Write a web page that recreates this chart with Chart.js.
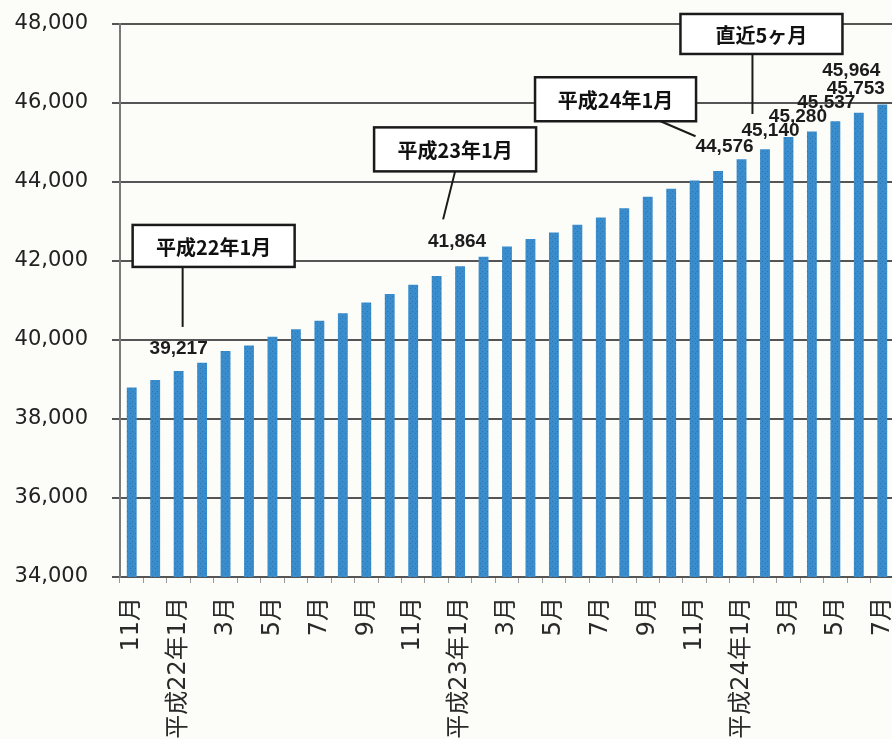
<!DOCTYPE html>
<html lang="ja">
<head>
<meta charset="utf-8">
<script src="https://cdn.jsdelivr.net/npm/chart.js@4.4.1/dist/chart.umd.min.js"></script>
<style>
  html, body { margin: 0; padding: 0; background: #fcfcf9; overflow: hidden; }
  #wrap { width: 894px; height: 739px; }
</style>
</head>
<body>
<div id="wrap"><canvas id="chart"></canvas></div>
<script>
// 月別の件数（平成21年11月〜平成24年7月）
const months = [
  '11月', '12月',
  '平成22年1月', '2月', '3月', '4月', '5月', '6月', '7月', '8月', '9月', '10月', '11月', '12月',
  '平成23年1月', '2月', '3月', '4月', '5月', '6月', '7月', '8月', '9月', '10月', '11月', '12月',
  '平成24年1月', '2月', '3月', '4月', '5月', '6月', '7月'
];
const counts = [
  38800, 38990,
  39217, 39425, 39720, 39860, 40085, 40270, 40490, 40675, 40950, 41165, 41400, 41620,
  41864, 42105, 42370, 42555, 42720, 42915, 43100, 43335, 43625, 43830, 44040, 44280,
  44576, 44830, 45140, 45280, 45537, 45753, 45964
];
const yTicks = [34000, 36000, 38000, 40000, 42000, 44000, 46000, 48000];

// 数値を表示する月（index と文字位置のずれ）
const valueLabels = [
  { i: 2, dx: 0, dy: -22 },
  { i: 14, dx: -3, dy: -25 },
  { i: 26, dx: -17, dy: -12 },
  { i: 28, dx: -18, dy: -6 },
  { i: 29, dx: -14, dy: -15 },
  { i: 30, dx: -9, dy: -19 },
  { i: 31, dx: -3, dy: -24 },
  { i: 32, dx: -31, dy: -34 }
];

// 吹き出し
const callouts = [
  { text: '平成22年1月', i: 2, dx: 35, dy: -125, w: 162, h: 42, line: [[4, -104], [4, -44]] },
  { text: '平成23年1月', i: 14, dx: -5, dy: -117, w: 162, h: 44, line: [[-5, -95], [-17, -47]] },
  { text: '平成24年1月', i: 26, dx: -126, dy: -60, w: 161, h: 44, line: [[-81, -38], [-46, -23]] },
  { text: '直近5ヶ月', i: 28, dx: -27, dy: -103, w: 162, h: 40, line: [[-36, -83], [-36, -23]] }
];

// ドット模様の棒
function barPattern() {
  const c = document.createElement('canvas');
  c.width = 5; c.height = 5;
  const g = c.getContext('2d');
  g.fillStyle = '#3a8dcc';
  g.fillRect(0, 0, 5, 5);
  g.fillStyle = '#2f73ad';
  g.fillRect(2, 1, 1, 1);
  g.fillRect(0, 3, 1, 1);
  return g.createPattern(c, 'repeat');
}

const labelPlugin = {
  id: 'labels',
  afterDatasetsDraw(chart) {
    const ctx = chart.ctx;
    const xs = chart.scales.x, ys = chart.scales.y;
    const anchor = i => [xs.getPixelForValue(i), ys.getPixelForValue(counts[i])];
    ctx.save();

    callouts.forEach(c => {
      const [ax, ay] = anchor(c.i);
      ctx.strokeStyle = '#1a1a1a';
      ctx.lineWidth = 2;
      ctx.beginPath();
      ctx.moveTo(ax + c.line[0][0], ay + c.line[0][1]);
      ctx.lineTo(ax + c.line[1][0], ay + c.line[1][1]);
      ctx.stroke();
      const bx = ax + c.dx - c.w / 2, by = ay + c.dy - c.h / 2;
      ctx.fillStyle = '#ffffff';
      ctx.fillRect(bx, by, c.w, c.h);
      ctx.lineWidth = 2.5;
      ctx.strokeRect(bx, by, c.w, c.h);
      ctx.fillStyle = '#111';
      ctx.font = 'bold 20px "Noto Sans CJK JP"';
      ctx.textAlign = 'center';
      ctx.textBaseline = 'middle';
      ctx.fillText(c.text, ax + c.dx, ay + c.dy + 1);
    });

    ctx.font = 'bold 19px "Liberation Sans", Arial, sans-serif';
    ctx.fillStyle = '#1c1c1c';
    ctx.textAlign = 'center';
    ctx.textBaseline = 'middle';
    valueLabels.forEach(v => {
      const [ax, ay] = anchor(v.i);
      ctx.fillText(counts[v.i].toLocaleString('en-US'), ax + v.dx, ay + v.dy);
    });
    ctx.restore();
  }
};

new Chart(document.getElementById('chart'), {
  type: 'bar',
  data: {
    labels: months,
    datasets: [{
      data: counts,
      backgroundColor: barPattern(),
      barPercentage: 0.42,
      categoryPercentage: 1.0
    }]
  },
  options: {
    responsive: true,
    maintainAspectRatio: false,
    animation: false,
    layout: { padding: { top: 24, left: 0, right: 0, bottom: 0 } },
    plugins: { legend: { display: false }, tooltip: { enabled: false } },
    scales: {
      x: {
        offset: true,
        border: { display: true, color: '#555', width: 2 },
        grid: { offset: true, drawOnChartArea: false, drawTicks: true, tickLength: 6, color: '#999' },
        ticks: {
          autoSkip: false,
          maxRotation: 90,
          minRotation: 90,
          padding: 14,
          color: '#2a2a2a',
          font: { family: '"DejaVu Sans", "Noto Sans CJK JP"', size: 24 },
          callback: (v, i) => i % 2 === 0 ? months[i] : ''
        },
        afterFit: s => { s.height = 162; s.paddingLeft = 0; s.paddingRight = 0; }
      },
      y: {
        min: 34000,
        max: 48000,
        border: { display: true, color: '#7a7a7a', width: 2 },
        grid: { color: '#555', lineWidth: 2, tickLength: 8 },
        afterBuildTicks: s => { s.ticks = yTicks.map(v => ({ value: v })); },
        ticks: {
          padding: 24,
          color: '#222',
          font: { family: '"DejaVu Sans"', size: 21 },
          callback: v => v.toLocaleString('en-US')
        },
        afterFit: s => { s.width = 120; s.paddingTop = 0; s.paddingBottom = 0; }
      }
    }
  },
  plugins: [labelPlugin]
});
</script>
</body>
</html>
